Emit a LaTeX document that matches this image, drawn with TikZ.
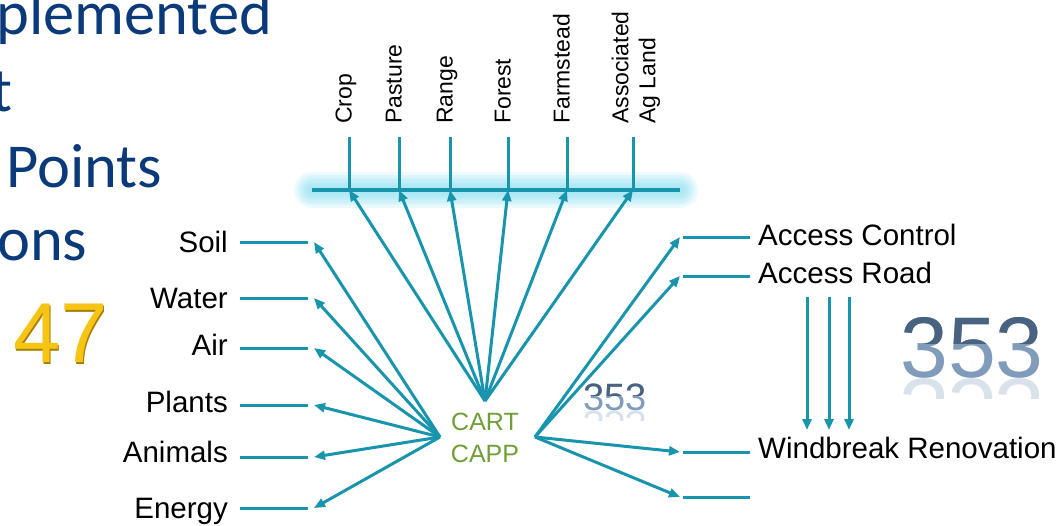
\documentclass[tikz,border=0pt]{standalone}
\usepackage{fontspec}
\setmainfont{Liberation Sans}
\newfontfamily\titlefont{Carlito}
\usetikzlibrary{arrows.meta}
\definecolor{tealA}{RGB}{24,148,172}
\definecolor{glowA}{RGB}{110,215,238}
\definecolor{titleblue}{RGB}{10,58,122}
\definecolor{goldA}{RGB}{245,196,20}
\definecolor{goldB}{RGB}{170,126,0}
\definecolor{greenA}{RGB}{110,160,55}
\definecolor{slateA}{RGB}{72,98,128}
\definecolor{slateB}{RGB}{128,156,186}
\begin{document}
\begin{tikzpicture}[x=1pt,y=-1pt,
  lbl/.style={font=\fontsize{29.5}{34}\selectfont, inner sep=0},
  toplbl/.style={font=\fontsize{23}{27}\selectfont, rotate=90, inner sep=0, align=left},
  title/.style={font=\titlefont\fontsize{62.5}{70}\selectfont, text=titleblue, inner sep=0, anchor=base west},
  conn/.style={draw=tealA, line width=3pt},
  arr/.style={conn, -{Triangle[length=11pt,width=9pt]}},
  glow/.style={draw=glowA, line cap=round, opacity=0.13},
  hub/.style={font=\fontsize{25}{30}\selectfont, text=greenA, inner sep=0, anchor=base},
  gold/.style={font=\fontsize{85}{90}\selectfont, inner sep=0, anchor=base west},
]
\useasboundingbox (0,0) rectangle (1059,525);
\clip (0,0) rectangle (1059,525);

% title fragments
\node[title] (t1) at (-4,34) {plemented};
\node[title] (t2) at (-9,111) {t};
\node[title] (t3) at (6,187) {Points};
\node[title] (t4) at (-3,260) {ons};

% 47
\node[gold, text=goldB] (n47s) at (14.5,364) {47};
\node[gold, text=goldA] (n47) at (13,362.5) {47};

% glowing bar
\coordinate (barL) at (312,190);
\coordinate (barR) at (680,190);
\foreach \w in {36,30,25,20,15,10}{
  \draw[glow, line width=\w pt] (barL) -- (barR);
}
\draw[conn, line width=4pt] (barL) -- (barR);

% top ticks and labels
\foreach \nm/\xx in {crop/349, past/399, rang/450, fore/508, farm/567, asso/633}{
  \coordinate (\nm B) at (\xx,190);
  \coordinate (\nm T) at (\xx,137);
  \draw[conn] (\nm T) -- (\nm B);
}
\node[toplbl, anchor=mid west] (crop) at (349,124) {Crop};
\node[toplbl, anchor=mid west] (past) at (399,124) {Pasture};
\node[toplbl, anchor=mid west] (rang) at (450,124) {Range};
\node[toplbl, anchor=mid west] (fore) at (508,124) {Forest};
\node[toplbl, anchor=mid west] (farm) at (567,124) {Farmstead};
\node[toplbl, anchor=west] (asso) at (636,124) {Associated\\Ag Land};

% hub
\node[hub] (cart) at (485,430) {CART};
\node[hub] (capp) at (485,462) {CAPP};
\coordinate (hubT) at (485,401);
\coordinate (hubL) at (440,437);
\coordinate (hubR) at (535,437);

\foreach \nm in {crop,past,rang,fore,farm,asso}{
  \draw[arr] (hubT) -- (\nm B);
}

% left labels
\foreach \nm/\txt/\base/\ly in {soil/Soil/252/242, water/Water/308/298, air/Air/355/348, plants/Plants/412/405, animals/Animals/462/457, energy/Energy/518/508}{
  \node[lbl, anchor=base east] (\nm) at (228,\base) {\txt};
  \coordinate (\nm S) at (240,\ly);
  \coordinate (\nm E) at (308,\ly);
  \coordinate (\nm A) at (314,\ly);
  \draw[conn] (\nm S) -- (\nm E);
  \draw[arr] (hubL) -- (\nm A);
}

% right side
\foreach \nm/\ly in {acc/237, road/276, wind/452, blank/497}{
  \coordinate (\nm S) at (683,\ly);
  \coordinate (\nm E) at (750,\ly);
  \coordinate (\nm A) at (680,\ly);
  \draw[conn] (\nm S) -- (\nm E);
  \draw[arr] (hubR) -- (\nm A);
}
\node[lbl, anchor=base west] (acctxt) at (758,245) {Access Control};
\node[lbl, anchor=base west] (roadtxt) at (758,283) {Access Road};
\node[lbl, anchor=base west] (windtxt) at (758,458) {Windbreak Renovation};

% three down arrows
\foreach \nm/\xx in {d1/807, d2/829, d3/849}{
  \coordinate (\nm T) at (\xx,297);
  \coordinate (\nm B) at (\xx,430);
  \draw[arr] (\nm T) -- (\nm B);
}

% big 353
\node[font=\fontsize{86}{90}\selectfont, text=slateB, inner sep=0, anchor=base west] (big) at (900,377) {353};
\begin{scope}
  \clip (890,300) rectangle (1059,343);
  \node[font=\fontsize{86}{90}\selectfont, text=slateA, inner sep=0, anchor=base west] (bigtop) at (900,377) {353};
\end{scope}
\begin{scope}
  \clip (890,378) rectangle (1059,398);
  \node[font=\fontsize{86}{90}\selectfont, text=slateB, opacity=0.3, yscale=-1, inner sep=0, anchor=base west] (bigref) at (900,379) {353};
\end{scope}

% small 353
\node[font=\fontsize{38}{42}\selectfont, text=slateB, inner sep=0, anchor=base west] (small) at (583,410) {353};
\begin{scope}
  \clip (575,375) rectangle (660,395);
  \node[font=\fontsize{38}{42}\selectfont, text=slateA, inner sep=0, anchor=base west] (smalltop) at (583,410) {353};
\end{scope}
\begin{scope}
  \clip (575,411) rectangle (660,420);
  \node[font=\fontsize{38}{42}\selectfont, text=slateB, opacity=0.3, yscale=-1, inner sep=0, anchor=base west] (smallref) at (583,411) {353};
\end{scope}
\end{tikzpicture}
\end{document}
